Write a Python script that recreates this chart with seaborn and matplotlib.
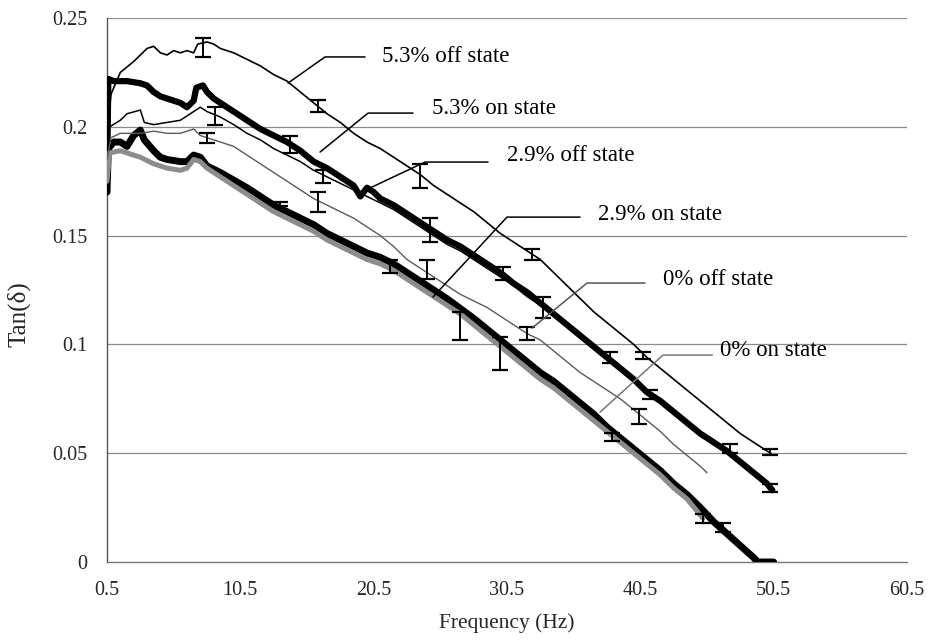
import numpy as np
import pandas as pd
import matplotlib
matplotlib.use("Agg")
import matplotlib.pyplot as plt
import seaborn as sns

# ---------------- data ----------------
f_53off = [0.5, 0.8, 1.5, 2.5, 3, 3.5, 4, 4.5, 5, 5.5, 6, 6.5, 7, 7.3, 8, 8.5, 9, 10, 11, 12, 13, 14,
           15, 16, 17, 18, 19, 20, 21, 22, 23, 24, 25, 26, 27, 28, 29, 30, 31, 32, 33, 34, 35, 36,
           37, 38, 39, 40, 41, 42, 43, 44, 45, 46, 47, 48, 49, 50, 50.3]
t_53off = [0.198, 0.215, 0.225, 0.230, 0.233, 0.236, 0.237, 0.234, 0.233, 0.235, 0.234, 0.235, 0.234,
           0.238, 0.239, 0.238, 0.236, 0.234, 0.231, 0.228, 0.224, 0.221, 0.216, 0.211, 0.206, 0.202,
           0.197, 0.193, 0.190, 0.186, 0.182, 0.178, 0.173, 0.169, 0.165, 0.161, 0.156, 0.151, 0.147,
           0.143, 0.139, 0.133, 0.127, 0.121, 0.115, 0.110, 0.105, 0.100, 0.094, 0.089, 0.084, 0.079,
           0.074, 0.069, 0.064, 0.059, 0.055, 0.051, 0.050]

f_53on = [0.5, 0.6, 1, 2, 3, 3.5, 4, 4.5, 5, 6, 6.5, 7, 7.2, 7.7, 8, 8.5, 9, 10, 11, 12, 13, 14, 15, 16,
          17, 18, 19, 19.5, 20, 20.5, 21, 22, 23, 24, 25, 26, 27, 28, 29, 30, 31, 32, 33, 34, 35, 36,
          37, 38, 39, 40, 41, 42, 43, 44, 45, 46, 47, 48, 49, 50, 50.4]
t_53on = [0.175, 0.222, 0.221, 0.221, 0.220, 0.219, 0.216, 0.214, 0.213, 0.211, 0.209, 0.212, 0.218,
          0.219, 0.216, 0.213, 0.211, 0.207, 0.203, 0.199, 0.196, 0.193, 0.189, 0.184, 0.181, 0.177,
          0.173, 0.168, 0.172, 0.170, 0.167, 0.164, 0.160, 0.156, 0.152, 0.148, 0.145, 0.141, 0.137,
          0.133, 0.128, 0.124, 0.119, 0.114, 0.109, 0.104, 0.099, 0.094, 0.089, 0.084, 0.078, 0.074,
          0.069, 0.064, 0.059, 0.055, 0.051, 0.046, 0.041, 0.036, 0.033]

f_29off = [0.5, 0.7, 1.5, 2, 3, 3.3, 4, 5, 6, 6.5, 7, 7.5, 8, 9, 10, 11, 12, 13, 14, 15, 16, 17, 18,
           19, 20, 21, 22, 23, 24, 25, 26, 27, 28, 29, 30, 31, 32, 33, 34, 35, 36, 37, 38, 39, 40,
           41, 42, 43, 44, 45, 46, 47, 48, 49, 49.5, 50, 50.3]
t_29off = [0.185, 0.200, 0.203, 0.206, 0.2077, 0.202, 0.201, 0.202, 0.203, 0.205, 0.207, 0.209, 0.207,
           0.2045, 0.201, 0.197, 0.194, 0.190, 0.187, 0.184, 0.180, 0.177, 0.174, 0.171, 0.168, 0.165,
           0.162, 0.158, 0.154, 0.150, 0.146, 0.143, 0.139, 0.135, 0.131, 0.127, 0.122, 0.118, 0.113,
           0.108, 0.103, 0.098, 0.093, 0.088, 0.083, 0.078, 0.073, 0.068, 0.063, 0.059, 0.055, 0.051,
           0.046, 0.041, 0.038, 0.036, 0.034]

f_29on = [0.5, 0.6, 1, 1.5, 2, 2.5, 3, 3.3, 4, 4.5, 5, 6, 6.5, 7, 7.5, 8, 9, 10, 11, 12, 13, 14, 15,
          16, 17, 18, 19, 20, 21, 22, 23, 24, 25, 26, 27, 28, 29, 30, 31, 32, 33, 34, 35, 36, 37,
          38, 39, 40, 41, 42, 43, 44, 45, 46, 47, 48, 49, 49.3, 50.5]
t_29on = [0.170, 0.190, 0.193, 0.193, 0.191, 0.196, 0.1985, 0.194, 0.189, 0.186, 0.185, 0.184, 0.184,
          0.187, 0.186, 0.182, 0.179, 0.1755, 0.172, 0.168, 0.164, 0.161, 0.158, 0.155, 0.151, 0.148,
          0.145, 0.142, 0.140, 0.137, 0.133, 0.129, 0.125, 0.121, 0.1165, 0.112, 0.107, 0.102, 0.097,
          0.092, 0.087, 0.083, 0.078, 0.073, 0.068, 0.062, 0.057, 0.052, 0.047, 0.042, 0.036, 0.031,
          0.025, 0.0185, 0.013, 0.0075, 0.002, 0.0, 0.0]

f_0off = [0.5, 0.8, 1.5, 3, 4, 5, 6, 7, 7.5, 8, 9, 10, 11, 12, 13, 14, 15, 16, 17, 18, 19, 20, 21, 22,
          23, 24, 25, 26, 27, 28, 29, 30, 31, 32, 33, 34, 35, 36, 37, 38, 39, 40, 41, 42, 43, 44, 45,
          45.5]
t_0off = [0.185, 0.195, 0.197, 0.197, 0.198, 0.197, 0.197, 0.199, 0.196, 0.195, 0.193, 0.191, 0.187,
          0.183, 0.179, 0.175, 0.171, 0.167, 0.164, 0.161, 0.158, 0.154, 0.150, 0.145, 0.139, 0.135,
          0.131, 0.127, 0.123, 0.120, 0.117, 0.113, 0.109, 0.105, 0.102, 0.097, 0.092, 0.087, 0.083,
          0.079, 0.075, 0.070, 0.065, 0.060, 0.054, 0.049, 0.044, 0.041]

f_0on = [0.5, 0.7, 1.5, 2, 3, 4, 5, 6, 6.5, 7, 7.5, 8, 9, 10, 11, 12, 13, 14, 15, 16, 17, 18, 19, 20,
         21, 22, 23, 24, 25, 26, 27, 28, 29, 30, 31, 32, 33, 34, 35, 36, 37, 38, 39, 40, 41, 42, 43,
         44, 45.2]
t_0on = [0.175, 0.188, 0.189, 0.188, 0.186, 0.183, 0.181, 0.180, 0.181, 0.185, 0.184, 0.181, 0.177,
         0.173, 0.169, 0.165, 0.161, 0.158, 0.155, 0.152, 0.148, 0.145, 0.142, 0.139, 0.137, 0.134,
         0.130, 0.126, 0.122, 0.118, 0.114, 0.109, 0.104, 0.099, 0.094, 0.089, 0.084, 0.080, 0.075,
         0.070, 0.065, 0.060, 0.055, 0.050, 0.045, 0.040, 0.034, 0.029, 0.020]

# error bars: (frequency, centre value, half-height)
eb_53off = ([7.7, 16.3, 24.0, 32.4, 40.7, 50.2], [0.2365, 0.2095, 0.1775, 0.1415, 0.095, 0.0505],
            [0.0043, 0.0028, 0.0055, 0.0025, 0.0015, 0.0015])
eb_53on = ([14.2, 24.7, 30.2, 38.2, 41.2, 50.2], [0.192, 0.1525, 0.1326, 0.094, 0.077, 0.034],
           [0.004, 0.0055, 0.003, 0.0025, 0.002, 0.002])
eb_29off = ([8.6, 16.7, 33.2, 47.2], [0.205, 0.177, 0.117, 0.052], [0.004, 0.003, 0.0047, 0.002])
eb_0off = ([8.0, 16.3, 24.5, 32.0, 40.4], [0.195, 0.1655, 0.1345, 0.105, 0.067],
           [0.0023, 0.0045, 0.0043, 0.0028, 0.0035])
eb_29on = ([13.5, 21.7, 27.0, 30.0, 38.4, 46.7], [0.1645, 0.136, 0.1085, 0.096, 0.0575, 0.016],
           [0.001, 0.003, 0.0065, 0.0076, 0.002, 0.002])
eb_0on = ([45.2], [0.020], [0.002])

labels = ["5.3% off state", "5.3% on state", "2.9% off state", "2.9% on state",
          "0% off state", "0% on state"]
x_ticks = [0.5, 10.5, 20.5, 30.5, 40.5, 50.5, 60.5]
y_ticks = [0, 0.05, 0.1, 0.15, 0.2, 0.25]
y_ticklabels = ["0", "0.05", "0.1", "0.15", "0.2", "0.25"]

# annotation text positions and leader-line paths (data coordinates)
ann_text = [(21.1, 0.2321), (24.9, 0.2086), (30.5, 0.1866), (37.33, 0.1595), (42.2, 0.1296),
            (46.5, 0.0974)]
ann_path_x = [[19.85, 16.85, 14.08], [23.45, 20.08, 16.48], [29.08, 24.35, 20.23],
              [35.98, 30.5, 24.95], [40.85, 36.5, 32.38], [45.9, 42.2, 37.48]]
ann_path_y = [[0.2321, 0.2321, 0.2201], [0.2063, 0.2063, 0.1884], [0.1838, 0.1838, 0.1719],
              [0.1585, 0.1585, 0.1218], [0.1282, 0.1282, 0.1075], [0.0951, 0.0951, 0.0689]]
ann_color = ["black", "black", "black", "black", "#555555", "#777777"]

# ---------------- plotting ----------------
sns.set_theme(style="white")
plt.rcParams["font.family"] = ["Liberation Serif", "DejaVu Serif"]

fig = plt.figure(figsize=(9.38, 6.4), dpi=100)
ax = fig.add_axes([107 / 938, 78 / 640, 800 / 938, 544 / 640])

for yv in y_ticks[1:]:
    ax.axhline(yv, color="#8a8a8a", lw=0.9, zorder=0)

series = [
    (f_53off, t_53off, "black", 1.2, 3),
    (f_53on, t_53on, "black", 4.5, 3),
    (f_29off, t_29off, "black", 1.1, 4),
    (f_29on, t_29on, "black", 5.0, 3),
    (f_0on, t_0on, "#8c8c8c", 3.6, 4),
    (f_0off, t_0off, "#5a5a5a", 1.0, 4),
]
for fx, ty, col, lw, z in series:
    df = pd.DataFrame({"f": fx, "t": ty})
    sns.lineplot(data=df, x="f", y="t", ax=ax, color=col, lw=lw, sort=False,
                 estimator=None, zorder=z, solid_joinstyle="round")

for ex, ey, ee in [eb_53off, eb_53on, eb_29off, eb_0off, eb_29on, eb_0on]:
    ax.errorbar(ex, ey, yerr=ee, fmt="none", ecolor="black", elinewidth=1.4,
                capsize=5.5, capthick=1.6, zorder=6)

for lab, (tx, ty), px, py, c in zip(labels, ann_text, ann_path_x, ann_path_y, ann_color):
    ax.plot(px, py, color=c, lw=1.1, zorder=7)
    ax.text(tx, ty, lab, fontsize=16.5, ha="left", va="center", color="black", zorder=8)

ax.set_xlim(0.5, 60.5)
ax.set_ylim(0, 0.25)
ax.set_xticks(x_ticks)
ax.set_xticklabels([f"{v:g}" for v in x_ticks], fontsize=14.5)
ax.set_yticks(y_ticks)
ax.set_yticklabels(y_ticklabels, fontsize=14.5)
ax.tick_params(axis="x", direction="in", length=4, width=0.8, color="#666666", pad=14)
ax.tick_params(axis="y", direction="out", length=0, pad=14)

for s in ["top", "right"]:
    ax.spines[s].set_visible(False)
ax.spines["left"].set_color("#555555")
ax.spines["bottom"].set_color("#777777")
ax.spines["left"].set_linewidth(1.0)
ax.spines["bottom"].set_linewidth(1.0)

ax.set_xlabel("Frequency (Hz)", fontsize=15.5)
ax.xaxis.set_label_coords(0.5, -0.094)
ax.set_ylabel("Tan(δ)", fontsize=18)
ax.yaxis.set_label_coords(-0.096, 0.455)

fig.savefig("out.png", dpi=100, facecolor="white")
